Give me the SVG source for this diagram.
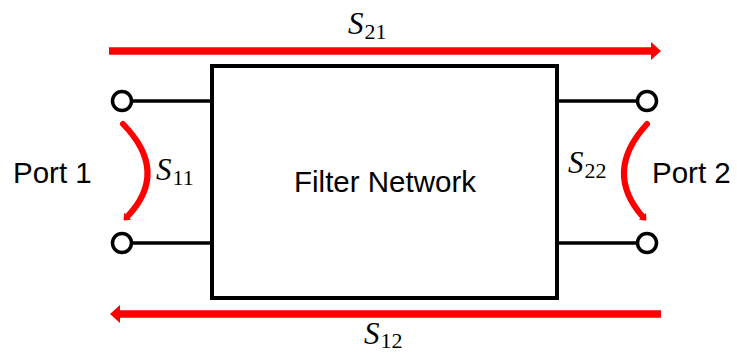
<svg xmlns="http://www.w3.org/2000/svg" width="737" height="355" viewBox="0 0 737 355">
<style>
.wire{stroke:#000;stroke-width:3.5;fill:none}
.term{stroke:#000;stroke-width:3.5;fill:#fff}
.box{stroke:#000;stroke-width:4;fill:#fff}
.red{stroke:#ff0000;stroke-width:7.5;fill:none}
.arc{stroke:#ff0000;stroke-width:6;fill:none;stroke-linecap:round}
.lbl{font-family:"Liberation Sans",Arial,sans-serif;font-size:29.5px;fill:#000}
.s{font-family:"Liberation Serif","DejaVu Serif",serif;font-style:italic;font-size:31px;fill:#000}
.sub{font-family:"Liberation Serif","DejaVu Serif",serif;font-size:22px;fill:#000}
</style>
<defs>
<marker id="ah" markerUnits="userSpaceOnUse" markerWidth="12" markerHeight="12" refX="1" refY="5" orient="auto">
<path d="M0,0 L6,5 L0,10 Z" fill="#ff0000"/>
</marker>
</defs>
<rect width="737" height="355" fill="#fff"/>
<g id="filter">
<rect class="box" x="212" y="66" width="345" height="232"/>
<text class="lbl" x="385" y="192" text-anchor="middle">Filter Network</text>
</g>
<g id="port1">
<line class="wire" x1="132" y1="101" x2="212" y2="101"/>
<line class="wire" x1="132" y1="243" x2="212" y2="243"/>
<circle class="term" cx="122" cy="101" r="9.5"/>
<circle class="term" cx="122" cy="243" r="9.5"/>
<text class="lbl" x="13" y="183">Port 1</text>
</g>
<g id="port2">
<line class="wire" x1="557" y1="101" x2="637" y2="101"/>
<line class="wire" x1="557" y1="243" x2="637" y2="243"/>
<circle class="term" cx="647" cy="101" r="9.5"/>
<circle class="term" cx="647" cy="243" r="9.5"/>
<text class="lbl" x="652" y="183">Port 2</text>
</g>
<g id="connectors">
<line class="red" x1="109" y1="51" x2="653" y2="51"/>
<path d="M651,42 L661,51 L651,60 Z" fill="#ff0000"/>
<line class="red" x1="661" y1="314" x2="118" y2="314"/>
<path d="M120,305 L110,314 L120,323 Z" fill="#ff0000"/>
<path class="arc" d="M123,124 Q170,172 127,217" marker-end="url(#ah)"/>
<path class="arc" d="M647,124 Q603,172 643,217" marker-end="url(#ah)"/>
</g>
<g id="labels">
<text x="348" y="34"><tspan class="s">S</tspan><tspan class="sub" dx="1" dy="5">21</tspan></text>
<text x="364" y="344"><tspan class="s">S</tspan><tspan class="sub" dx="1" dy="4">12</tspan></text>
<text x="156" y="180"><tspan class="s">S</tspan><tspan class="sub" dx="1" dy="5">11</tspan></text>
<text x="568" y="173"><tspan class="s">S</tspan><tspan class="sub" dx="1" dy="5">22</tspan></text>
</g>
</svg>
